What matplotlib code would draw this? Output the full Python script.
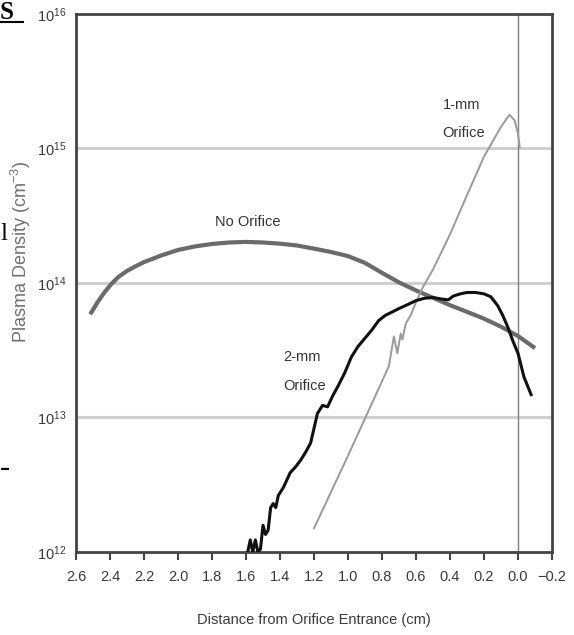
import numpy as np
import matplotlib
matplotlib.use("Agg")
import matplotlib.pyplot as plt
from matplotlib.lines import Line2D
from matplotlib.ticker import FixedLocator, LogLocator

plt.rcParams['font.family'] = ['Liberation Sans', 'DejaVu Sans']
plt.rcParams['mathtext.fontset'] = 'custom'
plt.rcParams['mathtext.rm'] = 'Liberation Sans'
plt.rcParams['mathtext.it'] = 'Liberation Sans:italic'

# (x w cm, gestosc w cm^-3)
no_orifice_x = [2.51, 2.47, 2.43, 2.39, 2.35, 2.30, 2.25, 2.20, 2.10, 2.00, 1.90, 1.80, 1.70,
                1.60, 1.50, 1.40, 1.30, 1.20, 1.10, 1.00, 0.90, 0.80, 0.70, 0.60, 0.50,
                0.40, 0.30, 0.20, 0.10, 0.00, -0.09]
no_orifice_n = [6.03e13, 7.3e13, 8.6e13, 9.9e13, 1.11e14, 1.23e14, 1.33e14, 1.43e14,
                1.60e14, 1.76e14, 1.87e14, 1.95e14, 2.00e14, 2.02e14, 2.00e14, 1.96e14,
                1.90e14, 1.80e14, 1.70e14, 1.585e14, 1.41e14, 1.19e14, 1.01e14, 8.8e13,
                7.76e13, 6.84e13, 6.1e13, 5.43e13, 4.73e13, 4.03e13, 3.35e13]

one_mm_x = [1.20, 1.00, 0.80, 0.76, 0.73, 0.71, 0.69, 0.68, 0.66, 0.63, 0.60, 0.56, 0.50,
            0.40, 0.30, 0.20, 0.10, 0.05, 0.02, 0.00, -0.01]
one_mm_n = [1.5e12, 5.2e12, 1.86e13, 2.4e13, 4.0e13, 3.0e13, 4.2e13, 3.8e13, 5.0e13, 5.8e13,
            7.2e13, 9.3e13, 1.26e14, 2.3e14, 4.5e14, 8.7e14, 1.45e15, 1.78e15, 1.62e15,
            1.29e15, 1.02e15]

two_mm_x = [1.60, 1.59, 1.575, 1.56, 1.545, 1.53, 1.515, 1.50, 1.485, 1.47, 1.455, 1.44, 1.425,
            1.41, 1.38, 1.34, 1.31, 1.28, 1.25, 1.22, 1.20, 1.18, 1.15, 1.12, 1.09, 1.06,
            1.02, 0.98, 0.94, 0.90, 0.86, 0.82, 0.78, 0.75, 0.70, 0.65, 0.60, 0.55, 0.50,
            0.45, 0.41, 0.38, 0.34, 0.30, 0.25, 0.20, 0.16, 0.12, 0.09, 0.06, 0.03, 0.00,
            -0.035, -0.077]
two_mm_n = [0.9e12, 1.0e12, 1.23e12, 1.0e12, 1.23e12, 1.0e12, 1.05e12, 1.58e12, 1.35e12,
            1.45e12, 2.14e12, 2.29e12, 2.14e12, 2.63e12, 3.02e12, 3.89e12, 4.27e12, 4.79e12,
            5.5e12, 6.46e12, 8.3e12, 1.07e13, 1.23e13, 1.2e13, 1.45e13, 1.7e13, 2.14e13,
            2.82e13, 3.39e13, 3.89e13, 4.47e13, 5.25e13, 5.75e13, 6.0e13, 6.46e13, 6.9e13,
            7.4e13, 7.7e13, 7.8e13, 7.6e13, 7.5e13, 8.0e13, 8.3e13, 8.5e13, 8.5e13, 8.3e13,
            7.9e13, 6.8e13, 5.75e13, 4.7e13, 3.7e13, 3.0e13, 2.0e13, 1.48e13]

x_ticks = [2.6, 2.4, 2.2, 2.0, 1.8, 1.6, 1.4, 1.2, 1.0, 0.8, 0.6, 0.4, 0.2, 0.0, -0.2]

fs = 10.5
fig = plt.figure(figsize=(5.74, 6.35), dpi=100)
ax = fig.add_axes([0.1324, 0.1307, 0.8293, 0.8473])

for y in [1e13, 1e14, 1e15]:
    ax.axhline(y, color='#cfcfcf', lw=2.2, zorder=1)
ax.axvline(0.0, color='#808080', lw=1.0, zorder=1)

ax.plot(no_orifice_x, no_orifice_n, color='#6a6a6a', lw=3.0, zorder=3)
ax.plot(one_mm_x, one_mm_n, color='#9a9a9a', lw=1.4, zorder=4)
ax.plot(two_mm_x, two_mm_n, color='#111111', lw=2.2, zorder=5)

ax.set_yscale('log')
ax.set_ylim(1e12, 1e16)
ax.set_xlim(2.6, -0.2)
ax.xaxis.set_major_locator(FixedLocator(x_ticks))
ax.set_xticklabels([f"{t:.1f}".replace('-', '\u2212') for t in x_ticks])
ax.yaxis.set_major_locator(LogLocator(base=10, numticks=10))
ax.yaxis.set_minor_locator(plt.NullLocator())

ax.tick_params(axis='x', direction='out', length=5.8, width=1.5, color='#444444',
               labelsize=fs, labelcolor='#3a3a3a', pad=7)
ax.tick_params(axis='y', length=0, labelsize=fs, labelcolor='#3a3a3a', pad=7)

for s in ax.spines.values():
    s.set_color('#444444')
    s.set_linewidth(2.0)

ax.set_xlabel('Distance from Orifice Entrance (cm)', fontsize=fs, color='#3a3a3a')
ax.xaxis.set_label_coords(0.5, -0.113)
ax.set_ylabel('Plasma Density (cm$^{-3}$)', fontsize=13, color='#707070')
ax.yaxis.set_label_coords(-0.090, 0.557)

ax.text(1.592, 10**14.454, 'No Orifice', fontsize=fs, color='#333333', ha='center', va='center')
ax.text(0.442, 10**15.323, '1-mm', fontsize=fs, color='#333333', ha='left', va='center')
ax.text(0.448, 10**15.115, 'Orifice', fontsize=fs, color='#333333', ha='left', va='center')
ax.text(1.38, 10**13.45, '2-mm', fontsize=fs, color='#333333', ha='left', va='center')
ax.text(1.38, 10**13.234, 'Orifice', fontsize=fs, color='#333333', ha='left', va='center')

# fragmenty tekstu z dokumentu po lewej
fig.text(0.0, 0.998, 'S', fontsize=18, fontweight='bold', family='Liberation Serif',
         ha='left', va='top')
fig.add_artist(Line2D([0.0, 0.04], [0.966, 0.966], color='black', lw=1.5))
fig.text(0.0, 0.632, 'l', fontsize=18, family='Liberation Serif', ha='left', va='center')
fig.text(0.0, 0.262, '-', fontsize=22, family='Liberation Serif', ha='left', va='center')

fig.savefig('out.png', dpi=100)
